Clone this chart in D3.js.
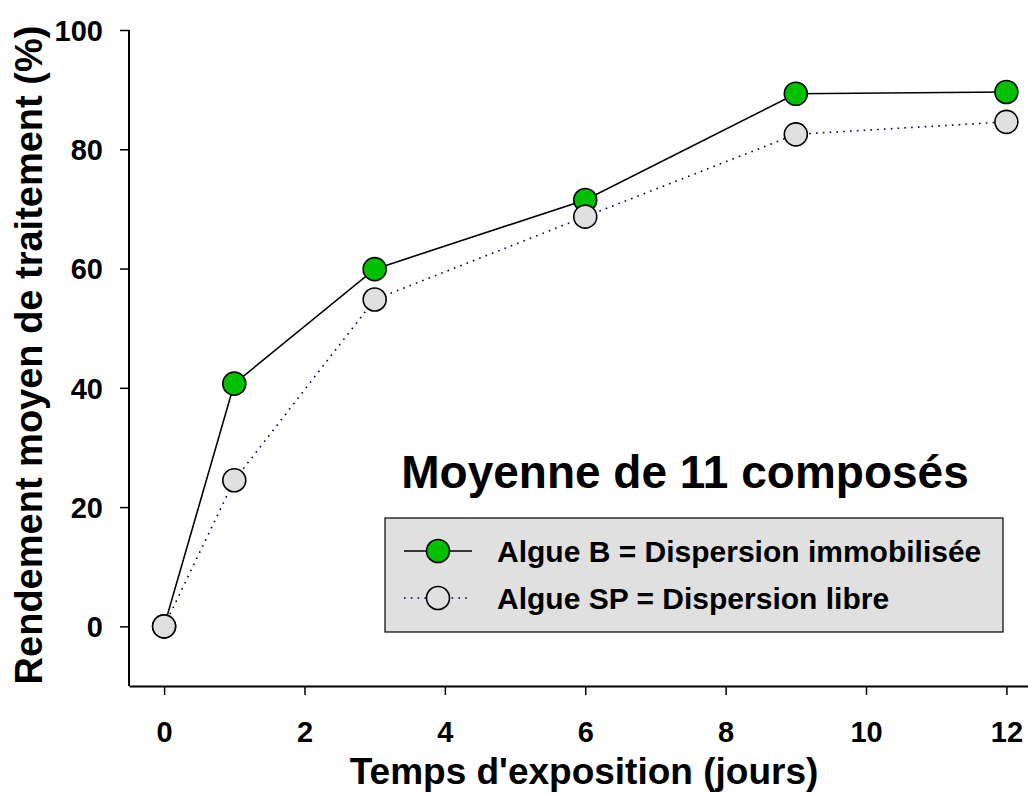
<!DOCTYPE html>
<html><head><meta charset="utf-8">
<script src="https://cdn.jsdelivr.net/npm/d3@7"></script>
<style>body{margin:0;background:#fff}svg{display:block}text{font-family:"Liberation Sans",Arial,sans-serif;font-weight:bold}</style>
</head><body>
<script>
const days = [0, 1, 3, 6, 9, 12];
const algueB = [0, 40.7, 59.9, 71.5, 89.3, 89.6];
const algueSP = [0, 24.5, 54.8, 68.7, 82.5, 84.6];
const xTicks = [0, 2, 4, 6, 8, 10, 12];
const yTicks = [0, 20, 40, 60, 80, 100];
const seriesNames = ["Algue B = Dispersion immobilisée", "Algue SP = Dispersion libre"];
const titleText = "Moyenne de 11 composés";
const xLabel = "Temps d'exposition (jours)";
const yLabel = "Rendement moyen de traitement (%)";

const W = 1028, H = 795;
const svg = d3.select("body").append("svg").attr("width", W).attr("height", H);
const x = d3.scaleLinear().domain([-0.5, 12.5]).range([129, 1041.5]);
const y = d3.scaleLinear().domain([-10, 100]).range([686, 30]);

const xa = svg.append("g").attr("transform", `translate(0,${y(-10)})`)
  .call(d3.axisBottom(x).tickValues(xTicks).tickSize(9).tickPadding(14).tickSizeOuter(0));
const ya = svg.append("g").attr("transform", `translate(${x(-0.5)},0)`)
  .call(d3.axisLeft(y).tickValues(yTicks).tickSize(9).tickPadding(17).tickSizeOuter(0));
[xa, ya].forEach(g => {
  g.attr("font-size", null).attr("font-family", null);
  g.select(".domain").attr("stroke", "#000").attr("stroke-width", 2);
  g.selectAll(".tick line").attr("stroke", "#000").attr("stroke-width", 1.5);
  g.selectAll(".tick text").attr("fill", "#000").style("font-size", "29px");
});
xa.selectAll(".tick text").attr("dy", null).attr("y", 56);
ya.selectAll(".tick text").attr("dy", "0.36em").attr("x", -26);
ya.select(".domain").attr("d", `M0,${y(-10)}V${y(100)}`);

const line = d3.line().x((d, i) => x(days[i])).y(d => y(d));
svg.append("path").datum(algueSP).attr("d", line).attr("fill", "none")
  .attr("stroke", "#000040").attr("stroke-width", 1.6).attr("stroke-dasharray", "1.6,5.2");
svg.append("path").datum(algueB).attr("d", line).attr("fill", "none")
  .attr("stroke", "#000").attr("stroke-width", 1.6);

svg.append("g").selectAll("circle").data(algueB).join("circle")
  .attr("cx", (d, i) => x(days[i])).attr("cy", d => y(d)).attr("r", 11.5)
  .attr("fill", "#00c000").attr("stroke", "#000").attr("stroke-width", 1.6);
svg.append("g").selectAll("circle").data(algueSP).join("circle")
  .attr("cx", (d, i) => x(days[i])).attr("cy", d => y(d)).attr("r", 11.5)
  .attr("fill", "#e0e0e0").attr("stroke", "#000").attr("stroke-width", 1.6);

svg.append("text").attr("x", 685).attr("y", 488).attr("text-anchor", "middle")
  .style("font-size", "46px").attr("fill", "#000").text(titleText);

const lg = svg.append("g");
lg.append("rect").attr("x", 385).attr("y", 518).attr("width", 618).attr("height", 114)
  .attr("fill", "#e0e0e0").attr("stroke", "#000").attr("stroke-width", 1.2);
const rows = [
  {y: 551, fill: "#00c000", dash: null, stroke: "#000"},
  {y: 598, fill: "#e0e0e0", dash: "1.6,5.2", stroke: "#000040"}
];
rows.forEach((r, i) => {
  lg.append("line").attr("x1", 404).attr("x2", 472).attr("y1", r.y).attr("y2", r.y)
    .attr("stroke", r.stroke).attr("stroke-width", 1.6).attr("stroke-dasharray", r.dash);
  lg.append("circle").attr("cx", 438).attr("cy", r.y).attr("r", 11.5)
    .attr("fill", r.fill).attr("stroke", "#000").attr("stroke-width", 1.6);
  lg.append("text").attr("x", 497).attr("y", r.y + 11).style("font-size", "30px")
    .attr("fill", "#000").text(seriesNames[i]);
});

svg.append("text").attr("x", 584).attr("y", 784).attr("text-anchor", "middle")
  .style("font-size", "37px").attr("fill", "#000").text(xLabel);
svg.append("text").attr("transform", "translate(42,355) rotate(-90)").attr("text-anchor", "middle")
  .style("font-size", "38px").attr("fill", "#000").text(yLabel);
</script>
</body></html>
